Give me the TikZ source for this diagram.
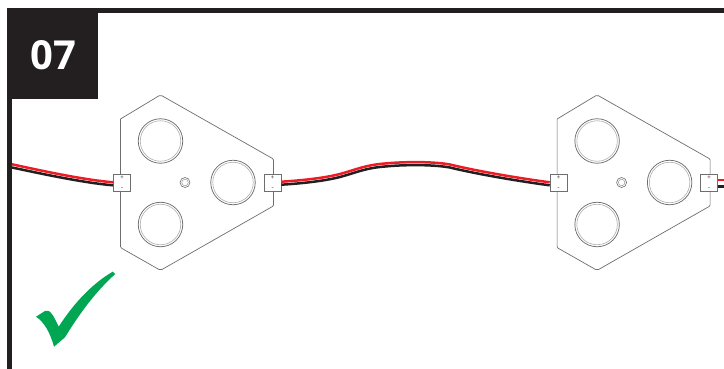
\documentclass[tikz,border=0pt]{standalone}
\usepackage{fontspec}
\setsansfont{Open Sans}
\definecolor{inkblack}{HTML}{231F20}
\definecolor{wirered}{HTML}{ED1C24}
\definecolor{checkgreen}{HTML}{00A651}
\definecolor{modgray}{HTML}{6E6E6E}
\tikzset{
  moduleoutline/.style={draw=modgray,line width=0.7pt,line join=round},
  ledouter/.style={circle,draw=modgray,line width=0.75pt,minimum size=44.5pt,inner sep=0pt},
  ledinner/.style={circle,draw=modgray!55,line width=0.6pt,minimum size=40.5pt,inner sep=0pt},
  holeouter/.style={circle,draw=modgray,line width=0.6pt,minimum size=10pt,inner sep=0pt},
  holeinner/.style={circle,draw=modgray!70,line width=0.5pt,minimum size=6.5pt,inner sep=0pt},
  connbox/.style={draw=modgray,fill=white,line width=0.75pt,minimum size=17pt,inner sep=0pt},
  polarity/.style={text=modgray,font=\sffamily\bfseries\fontsize{6}{6}\selectfont,inner sep=0pt},
  redwire/.style={draw=wirered,line width=2.5pt},
  blackwire/.style={draw=inkblack,line width=2.5pt},
}
\newcommand{\ledmodule}[2]{%
  \begin{scope}[shift={(#1,0)}]
    \draw[moduleoutline] (120.5,119) -- (159,95.8) .. controls (160.2,95.2) and (161,95.2) .. (162,95.8)
      -- (272.5,158.5) .. controls (273.3,159) and (273.5,159.4) .. (273.5,160) -- (273.5,205)
      .. controls (273.5,205.6) and (273.3,206) .. (272.5,206.5) -- (162,269.5)
      .. controls (161,270.1) and (160.2,270.1) .. (159,269.5) -- (121.5,248.2)
      .. controls (120.8,247.8) and (120.5,247.4) .. (120.5,246.5) -- cycle;
    \node[ledouter] (#2ledA) at (160.5,141) {};
    \node[ledinner] at (#2ledA.center) {};
    \node[ledouter] (#2ledB) at (160.5,224.5) {};
    \node[ledinner] at (#2ledB.center) {};
    \node[ledouter] (#2ledC) at (233,182.5) {};
    \node[ledinner] at (#2ledC.center) {};
    \node[holeouter] (#2hole) at (185,182.5) {};
    \node[holeinner] at (#2hole.center) {};
    \node[connbox] (#2left) at (122,182.5) {};
    \node[polarity] at (122,177.5) {+};
    \node[polarity] at (122,189) {-};
    \node[connbox] (#2right) at (272.5,182.5) {};
    \node[polarity] at (272.5,177.5) {+};
    \node[polarity] at (272.5,189) {-};
  \end{scope}}
\begin{document}
\begin{tikzpicture}[x=1pt,y=-1pt]
  \useasboundingbox (0,0) rectangle (724,369);
  \fill[white] (0,0) rectangle (724,369);
  % frame
  \fill[inkblack] (7,8) rectangle (724,12.8);
  \fill[inkblack] (7,8) rectangle (12,369);
  \node[fill=inkblack,minimum width=91pt,minimum height=90.5pt,inner sep=0pt,anchor=north west] (badge) at (7,8.3) {};
  \node[text=white,font=\sffamily\bfseries\fontsize{40}{40}\selectfont,inner sep=0pt] at (53.5,55) {07};
  % modules
  \ledmodule{0}{a}
  \ledmodule{436.6}{b}
  % wires
  \coordinate (wallR) at (12,164.3);
  \coordinate (wallK) at (12,167.5);
  \coordinate (edgeR) at (724,180);
  \coordinate (edgeK) at (724,186.3);
  \draw[blackwire] (wallK) .. controls (45,174.5) and (85,183) .. (aleft.west |- 0,185.3);
  \draw[redwire] (wallR) .. controls (45,171.5) and (85,180) .. (aleft.west |- 0,182.3);
  \foreach \dy/\sty in {3/blackwire,0/redwire}{
    \draw[\sty,yshift=-\dy pt] (aright.east |- 0,181.7)
      .. controls (300,180.5) and (322,178.5) .. (340,174)
      .. controls (355,170) and (365,165) .. (385,163.5)
      .. controls (400,162) and (430,161) .. (450,164.5)
      .. controls (470,169.5) and (510,177) .. (bleft.west |- 0,182.3);
  }
  \draw[blackwire] (bright.east |- 0,186.3) -- (edgeK);
  \draw[redwire] (bright.east |- 0,180) -- (edgeR);
  % check mark
  \fill[checkgreen] (112.7,271.7) -- (115.3,274)
    .. controls (95,292) and (78,316) .. (65,337.3)
    -- (54,346.7)
    .. controls (50,332) and (44,322) .. (36,316.7)
    -- (45,311) .. controls (47,310.6) and (49,310.8) .. (50,311.7)
    .. controls (54,316) and (56,321) .. (58.7,326.7)
    .. controls (72,306) and (90,285) .. (112.7,271.7) -- cycle;
\end{tikzpicture}
\end{document}
